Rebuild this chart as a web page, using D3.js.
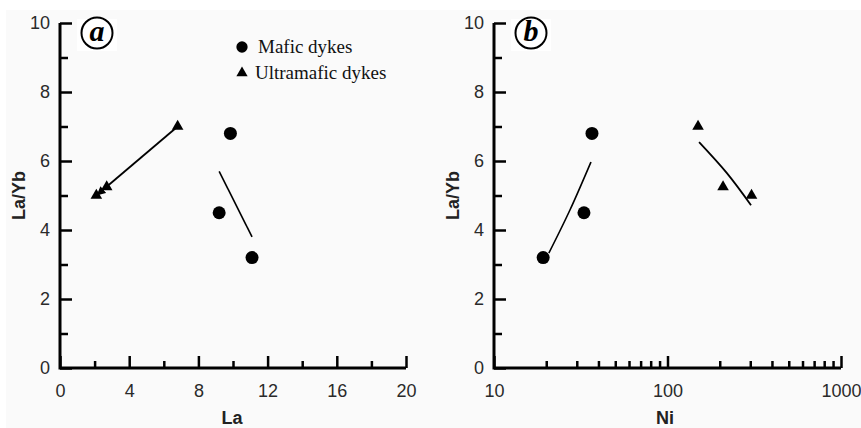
<!DOCTYPE html>
<html>
<head>
<meta charset="utf-8">
<script src="https://cdn.jsdelivr.net/npm/d3@7"></script>
<style>
  body { margin: 0; background: #fff; }
  .tick text { font-family: "Liberation Sans", Arial, sans-serif; font-size: 18px; fill: #2a2a2a; }
  .title { font-family: "Liberation Sans", Arial, sans-serif; font-size: 18px; font-weight: bold; fill: #222; }
  .legend text { font-family: "Liberation Serif", "Times New Roman", serif; font-size: 19px; fill: #111; }
</style>
</head>
<body>
<div id="plotSection"></div>
<script>
// La/Yb ratio for the two dyke groups
const ratioMafic = [6.8, 4.5, 3.2]
const ratioUltra = [7.0, 5.25, 5.0]
// panel a: La
const laMafic = [9.85, 9.2, 11.1]
const laUltra = [6.8, 2.7, 2.1]
// panel b: Ni
const niMafic = [36.7, 33, 19.2]
const niUltra = [150, 209, 305]

// trend lines
const trendLaMafic = [[9.2, 5.7], [11.1, 3.8]]
const trendLaUltra = [[6.8, 7.0], [2.15, 5.02]]
const trendNiMafic = [[20.7, 3.33], [27.4, 4.58], [36.2, 5.97]]
const trendNiUltra = [[152, 6.55], [220, 5.65], [303, 4.72]]

const yMajor = [0, 2, 4, 6, 8, 10]
const yMinor = [1, 3, 5, 7, 9]
const laMajor = [0, 4, 8, 12, 16, 20]
const laMinor = [2, 6, 10, 14, 18]
const niMajor = [10, 100, 1000]
const niMinor = [20, 30, 40, 50, 60, 70, 80, 90, 200, 300, 400, 500, 600, 700, 800, 900]

const legendLabels = ['Mafic dykes', 'Ultramafic dykes']

const W = 861, H = 428

const svg = d3.select('#plotSection').append('svg')
    .attr('width', W)
    .attr('height', H)

svg.append('rect')
    .attr('x', 6).attr('y', 10)
    .attr('width', W - 6).attr('height', H - 10)
    .attr('fill', '#fafafa')

const yScale = d3.scaleLinear().domain([0, 10]).range([368, 23])

const xA = d3.scaleLinear().domain([0, 20]).range([60, 406])
const xB = d3.scaleLog().domain([10, 1000]).range([494, 841])

const tri = d3.symbol(d3.symbolTriangle).size(58)

const line = d3.line()

svg.append('defs').append('marker')
    .attr('id', 'arrow')
    .attr('viewBox', '0 0 10 10')
    .attr('refX', 9).attr('refY', 5)
    .attr('markerWidth', 9).attr('markerHeight', 9)
    .attr('markerUnits', 'userSpaceOnUse')
    .attr('orient', 'auto')
    .append('path')
    .attr('d', 'M0,0L10,5L0,10z')
    .attr('fill', '#000')

function drawAxes(x, major, minor, fmt, xTitle, titleX, label) {
    const x0 = x.range()[0]
    const g = svg.append('g')

    // y axis, ticks pointing inward
    g.append('g')
        .attr('transform', `translate(${x0},0)`)
        .call(d3.axisRight(yScale).tickValues(yMajor).tickSize(12).tickFormat(d3.format('d')))
        .call(s => s.selectAll('text').attr('x', -10).attr('text-anchor', 'end'))
    g.append('g')
        .attr('transform', `translate(${x0},0)`)
        .call(d3.axisRight(yScale).tickValues(yMinor).tickSize(8).tickFormat(''))

    // x axis, ticks pointing up
    g.append('g')
        .attr('transform', 'translate(0,368)')
        .call(d3.axisTop(x).tickValues(major).tickSize(12).tickFormat(fmt))
        .call(s => s.selectAll('text').attr('y', 29).attr('dy', 0))
    g.append('g')
        .attr('transform', 'translate(0,368)')
        .call(d3.axisTop(x).tickValues(minor).tickSize(7).tickFormat(''))

    g.selectAll('.domain').remove()
    g.selectAll('.tick line').attr('stroke', '#000').attr('stroke-width', 2.5)

    g.append('path')
        .attr('d', `M${x0},${yScale(10)}V${yScale(0)}H${x.range()[1]}`)
        .attr('fill', 'none')
        .attr('stroke', '#000')
        .attr('stroke-width', 3)

    g.append('text')
        .attr('class', 'title')
        .attr('x', titleX).attr('y', 424)
        .attr('text-anchor', 'middle')
        .text(xTitle)

    g.append('text')
        .attr('class', 'title')
        .attr('transform', `translate(${x0 - 35},${(yScale(0) + yScale(10)) / 2}) rotate(-90)`)
        .attr('text-anchor', 'middle')
        .text('La/Yb')

    // circled panel letter
    const lx = x0 + 37, ly = 33
    g.append('rect')
        .attr('x', lx - 20).attr('y', ly - 14)
        .attr('width', 40).attr('height', 32)
        .attr('fill', '#fff')
    g.append('circle')
        .attr('cx', lx).attr('cy', ly).attr('r', 15.5)
        .attr('fill', 'none').attr('stroke', '#000').attr('stroke-width', 2)
    g.append('text')
        .attr('x', lx).attr('y', ly + 8)
        .attr('text-anchor', 'middle')
        .style('font-family', '"Liberation Serif", "Times New Roman", serif')
        .style('font-size', '30px')
        .style('font-style', 'italic')
        .style('font-weight', 'bold')
        .text(label)
}

drawAxes(xA, laMajor, laMinor, d3.format('d'), 'La', 232, 'a')
drawAxes(xB, niMajor, niMinor, d3.format('d'), 'Ni', 665, 'b')

// panel a marks
svg.append('path')
    .attr('d', line(trendLaMafic.map(d => [xA(d[0]), yScale(d[1])])))
    .attr('fill', 'none').attr('stroke', '#000').attr('stroke-width', 1.6)

svg.append('path')
    .attr('d', line(trendLaUltra.map(d => [xA(d[0]), yScale(d[1])])))
    .attr('fill', 'none').attr('stroke', '#000').attr('stroke-width', 1.8)
    .attr('marker-end', 'url(#arrow)')

svg.selectAll('.dotA')
    .data(laMafic)
    .enter().append('circle')
    .attr('class', 'dotA')
    .attr('r', 6.5)
    .attr('cx', d => xA(d))
    .attr('cy', (d, i) => yScale(ratioMafic[i]))

svg.selectAll('.triA')
    .data(laUltra)
    .enter().append('path')
    .attr('class', 'triA')
    .attr('d', tri)
    .attr('transform', (d, i) => `translate(${xA(d)},${yScale(ratioUltra[i])})`)

// panel b marks
const curve = d3.line().curve(d3.curveNatural)

svg.append('path')
    .attr('d', curve(trendNiMafic.map(d => [xB(d[0]), yScale(d[1])])))
    .attr('fill', 'none').attr('stroke', '#000').attr('stroke-width', 1.6)

svg.append('path')
    .attr('d', curve(trendNiUltra.map(d => [xB(d[0]), yScale(d[1])])))
    .attr('fill', 'none').attr('stroke', '#000').attr('stroke-width', 1.8)

svg.selectAll('.dotB')
    .data(niMafic)
    .enter().append('circle')
    .attr('class', 'dotB')
    .attr('r', 6.5)
    .attr('cx', d => xB(d))
    .attr('cy', (d, i) => yScale(ratioMafic[i]))

svg.selectAll('.triB')
    .data(niUltra)
    .enter().append('path')
    .attr('class', 'triB')
    .attr('d', tri)
    .attr('transform', (d, i) => `translate(${xB(d)},${yScale(ratioUltra[i])})`)

// legend
const legend = svg.selectAll('.legend')
    .data(legendLabels)
    .enter().append('g')
    .attr('class', 'legend')
    .attr('transform', (d, i) => `translate(242,${47 + i * 26})`)

legend.append('path')
    .attr('d', (d, i) => i === 0 ? d3.symbol(d3.symbolCircle).size(100)() : d3.symbol(d3.symbolTriangle).size(55)())

legend.append('text')
    .attr('x', (d, i) => i === 0 ? 16 : 13)
    .attr('y', 6)
    .text(d => d)
</script>
</body>
</html>
